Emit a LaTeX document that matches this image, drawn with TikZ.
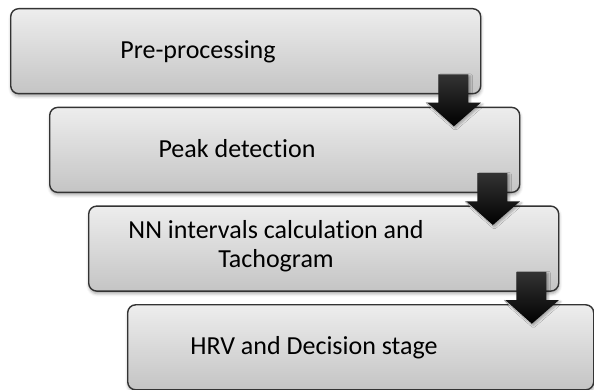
\documentclass[tikz,border=0pt]{standalone}
\usepackage{fontspec}
\setmainfont{Carlito}[Ligatures=NoCommon]
\usetikzlibrary{calc,shadows.blur}

\tikzset{
  stage/.style={
    draw=black!80, line width=1.4pt, rounded corners=8pt,
    minimum width=470pt, minimum height=85pt, inner sep=0pt,
    anchor=north west, top color=black!7, bottom color=black!23,
    blur shadow={shadow xshift=0.5pt, shadow yshift=-2.5pt,
      shadow blur radius=3pt, shadow opacity=35}},
  stagetext/.style={anchor=base, inner sep=0pt, align=center,
    font=\fontsize{26}{29}\selectfont},
  blockarrow/.style={top color=black!80, bottom color=black,
    blur shadow={shadow xshift=2pt, shadow yshift=-1.5pt,
      shadow blur radius=2pt, shadow opacity=30}},
  bevel/.style={draw=black!25, line width=0.9pt}
}

% block arrow from the lower right of stage #1 into stage #2
\newcommand\stagearrow[2]{%
  \coordinate (#1top) at ($(#1.south east)+(-28pt,20pt)$);
  \coordinate (#1col) at (#2.north -| #1top);
  \coordinate (#1tip) at ($(#1col)+(0,-20pt)$);
  \path[blockarrow] ($(#1top)+(-15pt,0)$) -- ($(#1top)+(15pt,0)$)
    -- ($(#1tip)+(15pt,24pt)$) -- ($(#1tip)+(27.5pt,24pt)$)
    -- (#1tip) -- ($(#1tip)+(-27.5pt,24pt)$)
    -- ($(#1tip)+(-15pt,24pt)$) -- cycle;
  \draw[bevel] ($(#1tip)+(-27pt,24pt)$) -- (#1tip);
}

\begin{document}
\begin{tikzpicture}[x=1pt, y=1pt]
  \useasboundingbox (0,0) rectangle (594,390);

  % the four stages, each shifted right and down
  \node[stage] (b1) at (10,382) {};
  \node[stage] (b2) at ($(b1.north west)+(39,-98.7)$) {};
  \node[stage] (b3) at ($(b2.north west)+(39,-98.7)$) {};
  \node[stage, minimum width=466pt] (b4) at ($(b3.north west)+(39,-98.7)$) {};

  % stage captions
  \node[stagetext] (t1) at ($(b1.west)+(188,-7.5)$) {Pre-processing};
  \node[stagetext] (t2) at ($(b2.west)+(188,-7.5)$) {Peak detection};
  \node[stagetext, anchor=north] (t3) at ($(b3.west)+(188,28)$)
    {NN intervals calculation and\\Tachogram};
  \node[stagetext] (t4) at ($(b4.west)+(187,-7)$) {HRV and Decision stage};

  % arrows between consecutive stages
  \stagearrow{b1}{b2}
  \stagearrow{b2}{b3}
  \stagearrow{b3}{b4}
\end{tikzpicture}
\end{document}
